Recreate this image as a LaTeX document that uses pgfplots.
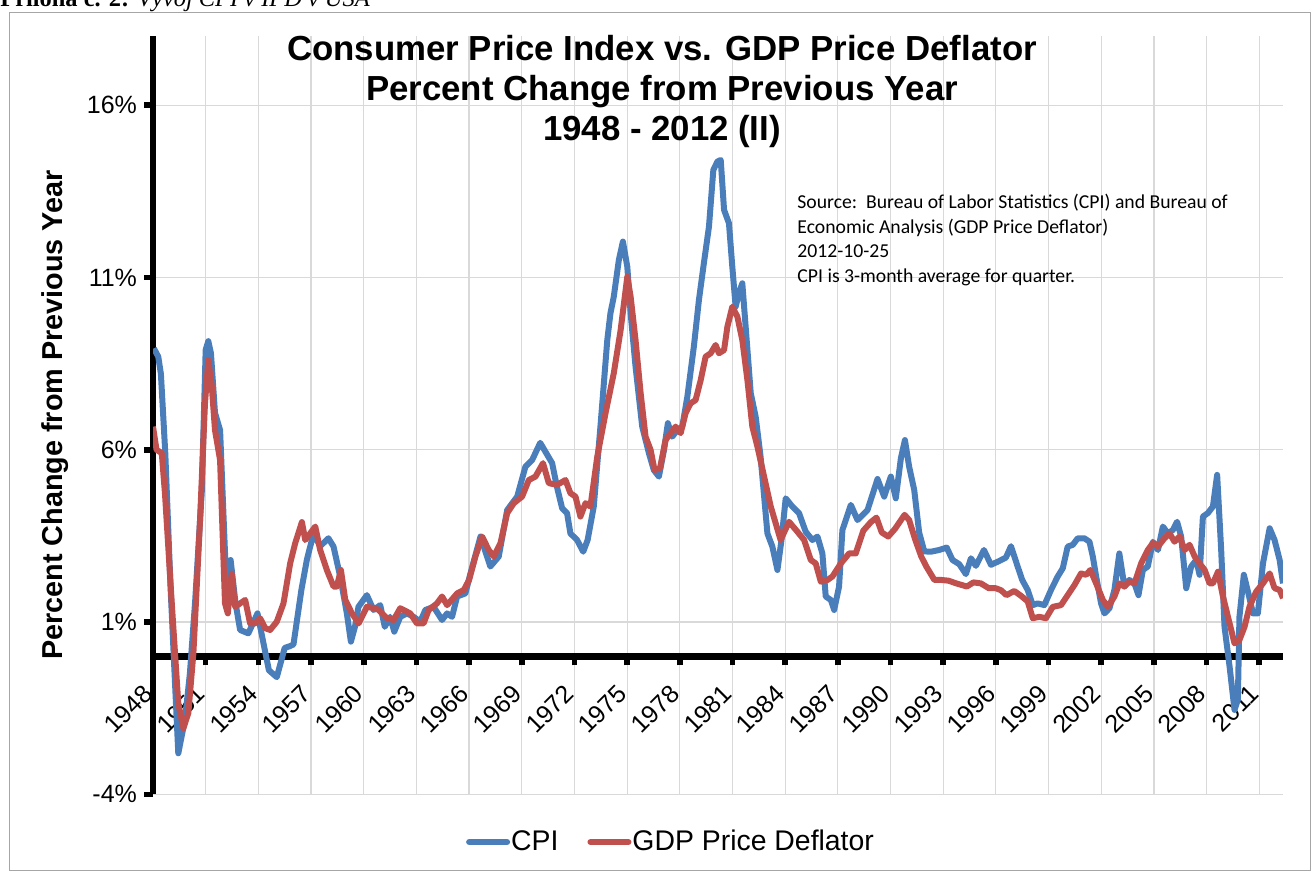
\documentclass[border=0pt]{standalone}
\usepackage{fontspec}
\setmainfont{Liberation Sans}
\newfontfamily\timesfont{Liberation Serif}
\newfontfamily\calibrifont{Carlito}
\usepackage{pgfplots}
\pgfplotsset{compat=1.18}
\definecolor{cpiblue}{HTML}{4A7EBB}
\definecolor{gdpred}{HTML}{C0504D}
\definecolor{gridgray}{HTML}{D9D9D9}
\definecolor{bordergray}{HTML}{A6A6A6}

\pgfplotstableread{
x y
1948.05 8.94
1948.30 8.70
1948.45 8.20
1948.70 5.90
1949.00 2.00
1949.44 -2.81
1949.60 -2.40
1949.82 -1.84
1950.10 -0.50
1950.40 1.60
1950.78 4.80
1951.00 8.90
1951.15 9.15
1951.30 8.80
1951.53 7.07
1951.82 6.57
1952.20 1.74
1952.42 2.80
1952.70 1.55
1952.96 0.77
1953.43 0.67
1953.95 1.25
1954.60 -0.40
1955.05 -0.60
1955.50 0.25
1955.80 0.30
1956.00 0.35
1956.45 1.93
1956.76 2.80
1957.14 3.57
1957.52 3.20
1957.99 3.43
1958.28 3.19
1958.66 2.32
1959.04 1.25
1959.27 0.43
1959.50 0.86
1959.70 1.44
1960.18 1.78
1960.56 1.35
1960.94 1.49
1961.20 0.86
1961.50 1.15
1961.74 0.72
1962.08 1.15
1962.46 1.25
1962.84 1.15
1963.22 1.01
1963.51 1.35
1963.98 1.44
1964.46 1.06
1964.75 1.25
1965.03 1.15
1965.32 1.74
1965.79 1.83
1966.08 2.41
1966.65 3.48
1967.21 2.61
1967.69 2.90
1968.17 4.25
1968.74 4.64
1969.21 5.51
1969.59 5.70
1970.05 6.20
1970.73 5.61
1971.00 4.93
1971.30 4.30
1971.58 4.16
1971.77 3.57
1972.15 3.38
1972.50 3.04
1972.75 3.38
1973.10 4.35
1973.48 6.67
1973.87 9.18
1974.05 9.96
1974.24 10.44
1974.53 11.51
1974.76 12.04
1975.01 11.31
1975.20 9.96
1975.48 8.41
1975.86 6.67
1976.24 5.90
1976.52 5.41
1976.81 5.22
1977.10 5.99
1977.32 6.77
1977.57 6.38
1977.86 6.57
1978.14 6.67
1978.43 7.54
1978.80 8.99
1979.09 10.35
1979.37 11.41
1979.66 12.47
1979.91 14.12
1980.14 14.36
1980.33 14.41
1980.52 12.96
1980.80 12.57
1980.99 11.31
1981.18 10.15
1981.37 10.54
1981.56 10.83
1981.75 9.57
1982.04 7.64
1982.32 6.96
1982.60 5.80
1982.99 3.57
1983.27 3.19
1983.56 2.51
1983.79 3.38
1984.03 4.59
1984.41 4.35
1984.79 4.16
1985.17 3.62
1985.55 3.38
1985.84 3.48
1986.12 2.99
1986.31 1.74
1986.60 1.64
1986.79 1.35
1987.07 2.03
1987.26 3.67
1987.74 4.40
1988.12 3.96
1988.69 4.25
1989.26 5.15
1989.64 4.64
1990.02 5.22
1990.30 4.59
1990.59 5.75
1990.82 6.28
1991.06 5.51
1991.35 4.83
1991.63 3.60
1991.92 3.05
1992.30 3.04
1992.77 3.09
1993.20 3.16
1993.53 2.80
1993.91 2.68
1994.29 2.39
1994.58 2.85
1994.86 2.63
1995.32 3.09
1995.72 2.66
1996.19 2.77
1996.57 2.87
1996.86 3.20
1997.24 2.61
1997.50 2.22
1997.81 1.93
1998.10 1.49
1998.38 1.54
1998.76 1.49
1999.14 1.93
1999.52 2.32
1999.81 2.56
2000.09 3.19
2000.38 3.24
2000.66 3.43
2001.04 3.43
2001.33 3.33
2001.52 2.90
2001.71 2.32
2001.99 1.54
2002.18 1.25
2002.47 1.40
2002.75 1.93
2003.03 2.99
2003.32 2.03
2003.60 2.22
2003.89 2.12
2004.12 1.78
2004.37 2.51
2004.65 2.61
2004.94 3.33
2005.23 3.09
2005.51 3.77
2005.80 3.57
2006.08 3.67
2006.32 3.91
2006.55 3.48
2006.84 1.98
2007.12 2.61
2007.41 2.80
2007.60 2.37
2007.79 4.06
2008.07 4.16
2008.36 4.35
2008.60 5.27
2008.83 3.09
2009.02 0.86
2009.31 -0.30
2009.59 -1.55
2009.78 -1.26
2009.87 1.15
2010.12 2.37
2010.38 1.83
2010.64 1.25
2010.92 1.25
2011.21 2.70
2011.59 3.72
2011.87 3.38
2012.16 2.80
2012.35 2.12
}\cpidata

\pgfplotstableread{
x y
1948.00 6.67
1948.20 6.00
1948.50 5.90
1948.68 4.74
1949.07 1.54
1949.44 -1.36
1949.73 -2.08
1950.01 -1.65
1950.30 0.09
1950.68 3.96
1950.96 7.35
1951.15 8.60
1951.35 7.83
1951.53 6.57
1951.82 5.70
1952.10 1.54
1952.26 1.25
1952.48 2.41
1952.68 1.44
1952.96 1.54
1953.25 1.64
1953.53 0.96
1953.82 0.96
1954.10 1.11
1954.39 0.82
1954.67 0.77
1955.05 1.01
1955.43 1.54
1955.81 2.70
1956.10 3.29
1956.48 3.90
1956.67 3.38
1956.95 3.57
1957.24 3.77
1957.52 3.09
1957.90 2.51
1958.28 2.03
1958.47 2.03
1958.70 2.51
1958.95 1.64
1959.33 1.25
1959.71 0.96
1960.18 1.44
1960.66 1.40
1960.85 1.35
1961.32 1.11
1961.70 1.06
1962.08 1.40
1962.65 1.25
1963.03 0.96
1963.41 0.96
1963.70 1.35
1964.17 1.54
1964.46 1.74
1964.75 1.49
1965.32 1.83
1965.70 1.93
1966.00 2.22
1966.36 2.90
1966.74 3.48
1967.12 3.09
1967.41 2.90
1967.79 3.29
1968.17 4.16
1968.55 4.45
1969.02 4.64
1969.40 5.12
1969.78 5.22
1970.21 5.61
1970.54 5.03
1971.01 4.98
1971.49 5.12
1971.77 4.74
1972.06 4.64
1972.34 4.06
1972.63 4.45
1972.91 4.35
1973.30 5.80
1973.77 7.06
1974.24 8.22
1974.63 9.47
1975.01 11.02
1975.20 10.44
1975.48 9.18
1975.77 7.64
1976.05 6.38
1976.34 5.99
1976.56 5.41
1976.87 5.46
1977.19 6.28
1977.48 6.48
1977.76 6.67
1978.05 6.48
1978.33 7.06
1978.62 7.35
1978.90 7.44
1979.19 8.02
1979.47 8.70
1979.76 8.80
1980.04 9.04
1980.23 8.80
1980.52 8.89
1980.71 9.57
1980.99 10.15
1981.28 9.86
1981.56 9.18
1981.85 8.02
1982.13 6.67
1982.42 6.09
1982.80 5.22
1983.18 4.35
1983.74 3.38
1984.22 3.91
1984.70 3.62
1985.08 3.38
1985.46 2.80
1985.74 2.70
1986.03 2.17
1986.41 2.22
1986.69 2.32
1987.17 2.70
1987.64 2.99
1988.02 2.99
1988.45 3.65
1988.88 3.90
1989.20 4.03
1989.50 3.60
1989.87 3.48
1990.25 3.70
1990.80 4.11
1991.06 3.96
1991.40 3.40
1991.75 2.90
1992.05 2.60
1992.50 2.22
1992.90 2.22
1993.30 2.20
1993.75 2.12
1994.35 2.03
1994.72 2.15
1995.15 2.12
1995.60 1.98
1996.00 1.98
1996.30 1.92
1996.60 1.78
1997.05 1.90
1997.43 1.76
1997.81 1.60
1998.10 1.11
1998.47 1.15
1998.85 1.11
1999.24 1.44
1999.71 1.49
2000.09 1.78
2000.47 2.07
2000.85 2.41
2001.14 2.37
2001.38 2.51
2001.71 2.12
2002.09 1.64
2002.38 1.44
2002.75 1.74
2003.03 2.12
2003.32 2.03
2003.60 2.17
2003.89 2.12
2004.27 2.70
2004.65 3.09
2004.94 3.29
2005.23 3.19
2005.60 3.43
2005.89 3.57
2006.17 3.33
2006.46 3.48
2006.75 3.09
2007.03 3.24
2007.32 2.90
2007.60 2.70
2007.89 2.51
2008.17 2.12
2008.36 2.12
2008.65 2.46
2008.93 1.74
2009.31 0.96
2009.59 0.38
2009.87 0.48
2010.16 0.86
2010.44 1.44
2010.82 1.88
2011.21 2.12
2011.59 2.41
2011.87 1.98
2012.16 1.93
2012.35 1.69
}\gdpdata

\begin{document}
\begin{tikzpicture}
\useasboundingbox (0pt,0pt) rectangle (656.5pt,-436.5pt);
\draw[bordergray, line width=0.6pt] (4.75pt,-6.25pt) rectangle (655.25pt,-435.25pt);
\node[anchor=base west, inner sep=0pt, font=\timesfont\fontsize{12.2pt}{14pt}\selectfont] at (0pt,-3pt) {\textbf{Příloha č. 2:} \textit{Vývoj CPI v IPD v USA}};

\begin{axis}[
  at={(76.5pt,-397.15pt)}, anchor=south west,
  scale only axis, width=565pt, height=379.05pt,
  xmin=1948, xmax=2012.35, ymin=-4, ymax=18,
  axis x line*=middle, axis y line*=left,
  hide obscured x ticks=false,
  axis line style={line width=3.3pt, black},
  tick align=outside,
  major tick length=4.5pt,
  tick style={line width=2.8pt, black},
  grid=major,
  major grid style={gridgray, line width=0.6pt},
  xtick={1948,1951,1954,1957,1960,1963,1966,1969,1972,1975,1978,1981,1984,1987,1990,1993,1996,1999,2002,2005,2008,2011},
  xticklabels={1948,1951,1954,1957,1960,1963,1966,1969,1972,1975,1978,1981,1984,1987,1990,1993,1996,1999,2002,2005,2008,2011},
  ytick={-4,1,6,11,16},
  yticklabels={-4\%,1\%,6\%,11\%,16\%},
  ticklabel style={font=\fontsize{12.5pt}{14pt}\selectfont},
  xticklabel style={anchor=east, yshift=-9.5pt, rotate=45},
  legend style={at={(0.458,-0.063)}, anchor=center, draw=none, fill=none,
    legend columns=2, font=\fontsize{14.2pt}{16pt}\selectfont,
    /tikz/every even column/.append style={column sep=14pt},
    nodes={inner xsep=0.5pt}},
  legend image code/.code={\draw[#1, line width=3pt, line cap=round] (0pt,0pt) -- (19pt,0pt);},
]
\addplot[cpiblue, line width=3pt, line join=round] table[x=x,y=y] {\cpidata};
\addlegendentry{CPI}
\addplot[gdpred, line width=3pt, line join=round] table[x=x,y=y] {\gdpdata};
\addlegendentry{GDP Price Deflator}
\end{axis}

\node[anchor=base, font=\bfseries\fontsize{17.4pt}{20pt}\selectfont] at (331pt,-30pt) {Consumer Price Index vs. GDP Price Deflator};
\node[anchor=base, font=\bfseries\fontsize{17.4pt}{20pt}\selectfont] at (331pt,-50pt) {Percent Change from Previous Year};
\node[anchor=base, font=\bfseries\fontsize{17.4pt}{20pt}\selectfont] at (331pt,-70pt) {1948 - 2012 (II)};

\node[rotate=90, anchor=base, font=\bfseries\fontsize{14.4pt}{16pt}\selectfont] at (31pt,-207.5pt) {Percent Change from Previous Year};

\begin{scope}[every node/.style={anchor=base west, inner sep=0pt, font=\calibrifont\fontsize{9.85pt}{12pt}\selectfont}]
\node at (398.5pt,-104pt) {Source:\ \ Bureau of Labor Statistics (CPI) and Bureau of};
\node at (398.5pt,-116.5pt) {Economic Analysis (GDP Price Deflator)};
\node at (398.5pt,-128.5pt) {2012-10-25};
\node at (398.5pt,-141pt) {CPI is 3-month average for quarter.};
\end{scope}
\end{tikzpicture}
\end{document}
